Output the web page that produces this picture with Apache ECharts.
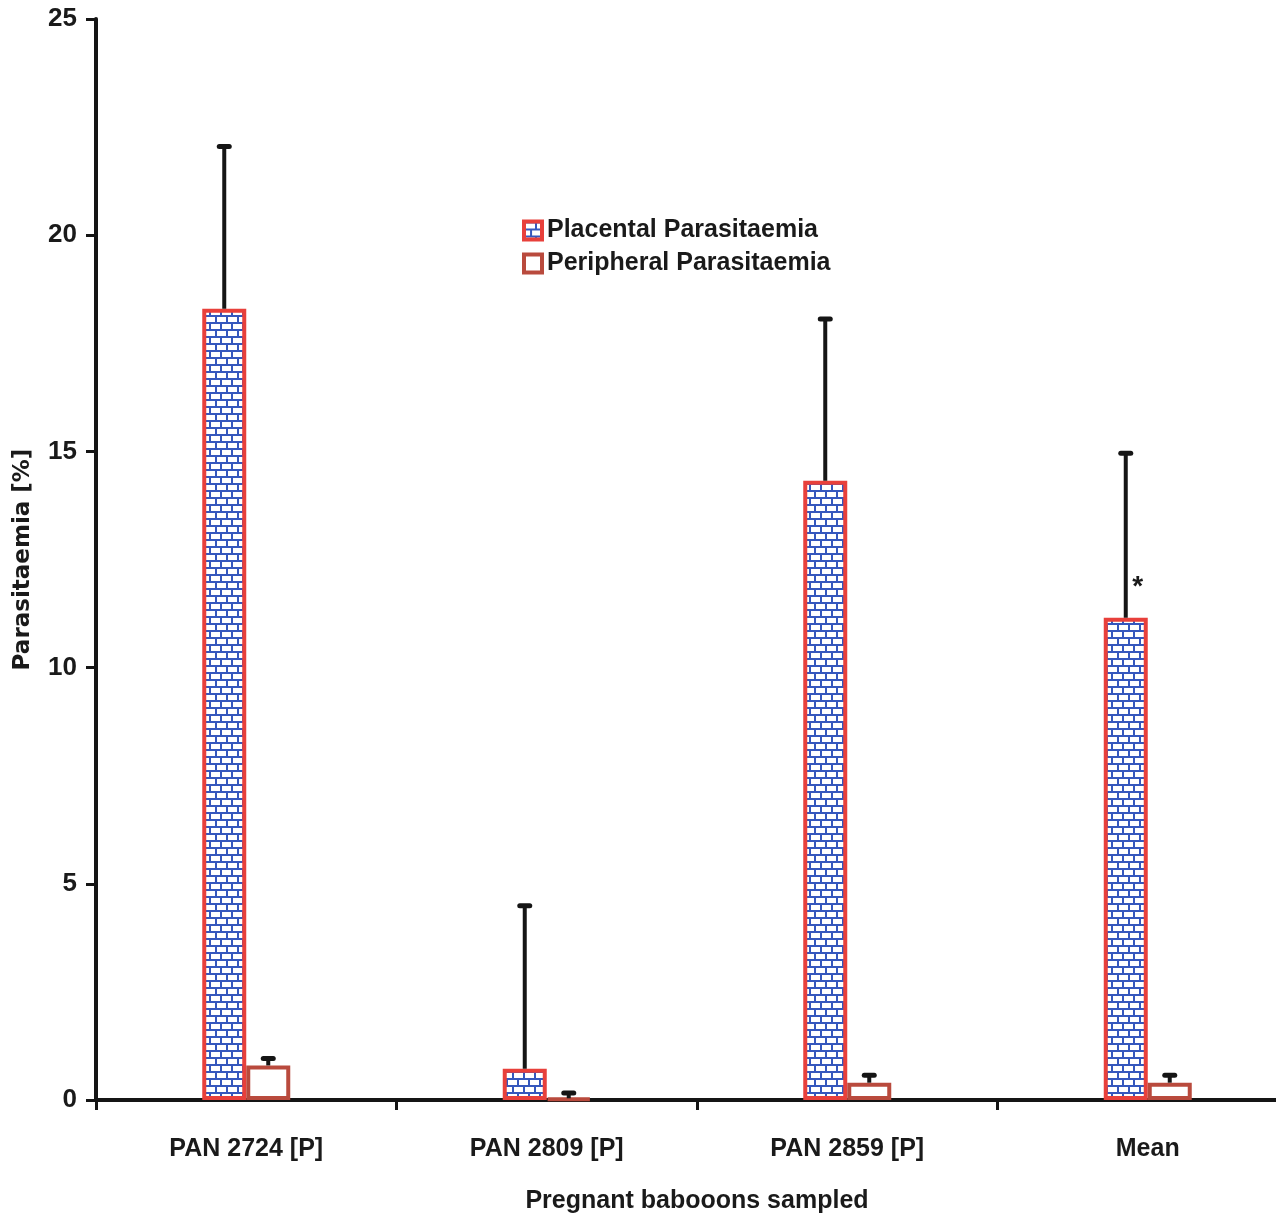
<!DOCTYPE html>
<html>
<head>
<meta charset="utf-8">
<script src="https://cdn.jsdelivr.net/npm/echarts@6/dist/echarts.min.js"></script>
<style>
  html, body { margin: 0; padding: 0; background: #ffffff; }
  #chart { width: 1276px; height: 1219px; }
</style>
</head>
<body>
<div id="chart"></div>
<script>
// Parasitaemia (%) in pregnant baboons: placental vs peripheral blood
const categories = ['PAN 2724 [P]', 'PAN 2809 [P]', 'PAN 2859 [P]', 'Mean'];
const placental = [18.3, 0.72, 14.32, 11.15];
const placentalErr = [3.75, 3.77, 3.74, 3.81];
const peripheral = [0.8, 0.04, 0.4, 0.4];
const peripheralErr = [0.16, 0.12, 0.17, 0.17];
const yTicks = [0, 5, 10, 15, 20, 25];
// significance marker shown beside the mean placental error bar
const sigMarks = [['Mean', 11.85, '*']];

const BAR_W = 44;
const FONT = "'Liberation Sans', Arial, Helvetica, sans-serif";
const WIDE = "'DejaVu Sans', 'Liberation Sans', Arial, sans-serif";

// brick fill used for the placental bars
function brickPattern() {
  const c = document.createElement('canvas');
  c.width = 22; c.height = 14;
  const g = c.getContext('2d');
  g.fillStyle = '#3557bd';
  g.fillRect(0, 0, 22, 14);
  g.fillStyle = '#ffffff';
  // upper course
  g.fillRect(2, 2, 9, 5);
  g.fillRect(13, 2, 9, 5);
  // lower course, offset by half a brick
  g.fillRect(8, 9, 9, 5);
  g.fillRect(19, 9, 3, 5);
  g.fillRect(0, 9, 6, 5);
  return c;
}

function errData(vals, errs) {
  return vals.map((v, i) => [i, v, errs[i]]);
}

function errorRenderer(side) {
  return function (params, api) {
    const top = api.value(1) + api.value(2);
    const base = api.coord([api.value(0), api.value(1)]);
    const tip = api.coord([api.value(0), top]);
    const x = base[0] + side * BAR_W / 2;
    return {
      type: 'group',
      children: [
        { type: 'line', shape: { x1: x, y1: base[1], x2: x, y2: tip[1] },
          style: { stroke: '#151515', lineWidth: 4, lineCap: 'butt' } },
        { type: 'line', shape: { x1: x - 5, y1: tip[1], x2: x + 5, y2: tip[1] },
          style: { stroke: '#151515', lineWidth: 5, lineCap: 'round' } }
      ]
    };
  };
}

const chart = echarts.init(document.getElementById('chart'), null, { renderer: 'canvas' });

chart.setOption({
  backgroundColor: '#ffffff',
  animation: false,
  // the plot area runs past the right edge of the page
  grid: { left: 96, top: 19, bottom: 119, width: 1202, containLabel: false, outerBoundsMode: 'none' },
  legend: {
    orient: 'vertical',
    left: 517,
    top: 213,
    itemWidth: 18,
    itemHeight: 18,
    itemGap: 8,
    icon: 'rect',
    itemStyle: { borderWidth: 4 },
    data: ['Placental Parasitaemia', 'Peripheral Parasitaemia'],
    textStyle: { fontFamily: FONT, fontWeight: 'bold', fontSize: 25, color: '#1a1a1a' }
  },
  xAxis: {
    type: 'category',
    data: categories,
    boundaryGap: true,
    axisLine: { lineStyle: { color: '#151515', width: 4 } },
    axisTick: { show: true, length: 10, lineStyle: { color: '#151515', width: 3 } },
    axisLabel: { fontFamily: FONT, fontWeight: 'bold', fontSize: 25, color: '#1a1a1a', margin: 37 },
    name: 'Pregnant babooons sampled',
    nameLocation: 'middle',
    nameGap: 89,
    nameTextStyle: { fontFamily: FONT, fontWeight: 'bold', fontSize: 25, color: '#1a1a1a' }
  },
  yAxis: {
    type: 'value',
    min: yTicks[0],
    max: yTicks[yTicks.length - 1],
    interval: 5,
    splitLine: { show: false },
    axisLine: { show: true, lineStyle: { color: '#151515', width: 4 } },
    axisTick: { show: true, length: 10, lineStyle: { color: '#151515', width: 3 } },
    axisLabel: { fontFamily: FONT, fontWeight: 'bold', fontSize: 26, color: '#1a1a1a', margin: 19, padding: [4, 0, 0, 0] },
    name: 'Parasitaemia [%]',
    nameLocation: 'middle',
    nameGap: 61,
    nameTextStyle: { fontFamily: WIDE, fontWeight: 'bold', fontSize: 23, color: '#1a1a1a' }
  },
  series: [
    {
      name: 'Placental Parasitaemia',
      type: 'bar',
      data: placental,
      barWidth: BAR_W,
      barGap: '0%',
      itemStyle: {
        color: { image: brickPattern(), repeat: 'repeat' },
        borderColor: '#e8403b',
        borderWidth: 4
      },
      z: 2
    },
    {
      name: 'Peripheral Parasitaemia',
      type: 'bar',
      data: peripheral,
      barWidth: BAR_W,
      barGap: '0%',
      itemStyle: {
        color: '#ffffff',
        borderColor: '#b94a3d',
        borderWidth: 4
      },
      z: 2
    },
    {
      name: 'placental-err',
      type: 'custom',
      data: errData(placental, placentalErr),
      renderItem: errorRenderer(-1),
      z: 5,
      silent: true
    },
    {
      name: 'peripheral-err',
      type: 'custom',
      data: errData(peripheral, peripheralErr),
      renderItem: errorRenderer(1),
      z: 5,
      silent: true
    },
    {
      name: 'significance',
      type: 'custom',
      data: sigMarks.map(m => [categories.indexOf(m[0]), m[1], m[2]]),
      renderItem: function (params, api) {
        const p = api.coord([api.value(0), api.value(1)]);
        return {
          type: 'text',
          x: p[0] - BAR_W / 2 + 12,
          y: p[1],
          style: {
            text: sigMarks[params.dataIndex][2],
            fontFamily: FONT, fontWeight: 'bold', fontSize: 28, fill: '#1a1a1a',
            align: 'center', verticalAlign: 'middle'
          }
        };
      },
      z: 6,
      silent: true
    }
  ]
});
</script>
</body>
</html>
